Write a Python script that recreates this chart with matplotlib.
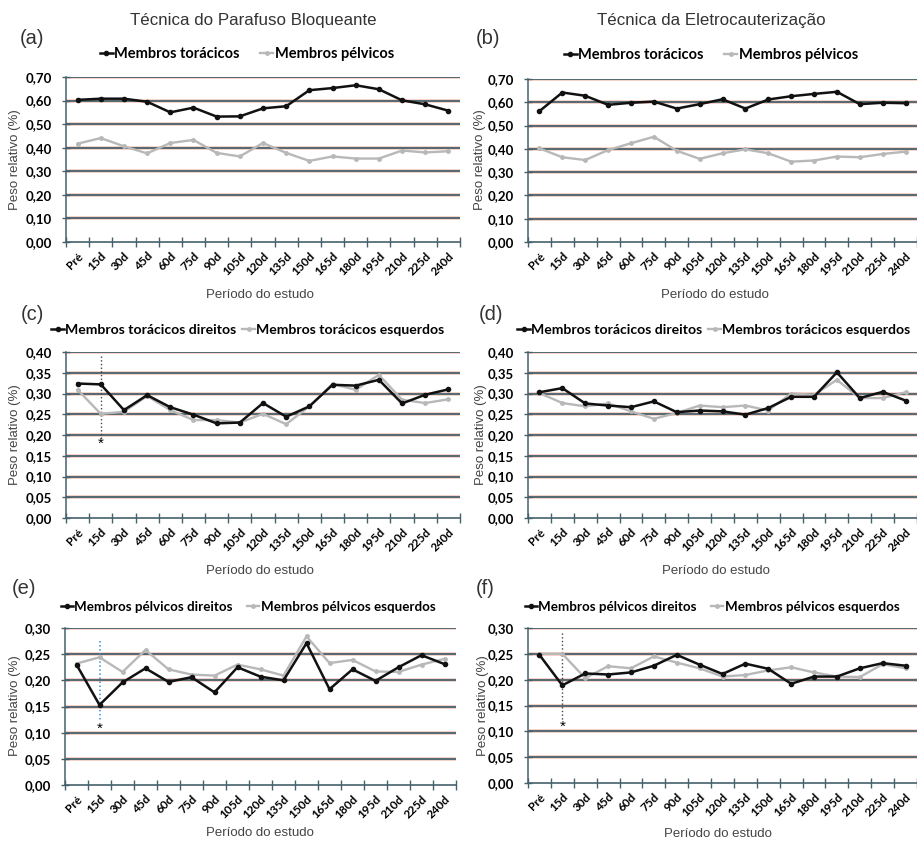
import numpy as np
import matplotlib.pyplot as plt

# Categorias do eixo x
periodos = ["Pré", "15d", "30d", "45d", "60d", "75d", "90d", "105d", "120d",
            "135d", "150d", "165d", "180d", "195d", "210d", "225d", "240d"]

# (a) Técnica do Parafuso Bloqueante
a_toracicos = [0.603, 0.608, 0.608, 0.595, 0.550, 0.570, 0.532, 0.533, 0.567,
               0.576, 0.644, 0.653, 0.665, 0.648, 0.601, 0.584, 0.557]
a_pelvicos = [0.417, 0.441, 0.406, 0.376, 0.420, 0.433, 0.378, 0.363, 0.420,
              0.378, 0.344, 0.363, 0.354, 0.354, 0.388, 0.380, 0.385]

# (b) Técnica da Eletrocauterização
b_toracicos = [0.562, 0.642, 0.628, 0.589, 0.598, 0.603, 0.573, 0.592, 0.613,
               0.573, 0.612, 0.626, 0.636, 0.645, 0.592, 0.598, 0.596]
b_pelvicos = [0.402, 0.364, 0.352, 0.395, 0.424, 0.452, 0.392, 0.357, 0.381,
              0.398, 0.381, 0.345, 0.350, 0.367, 0.364, 0.378, 0.388]

# (c)
c_direitos = [0.324, 0.322, 0.260, 0.296, 0.267, 0.249, 0.228, 0.230, 0.277,
              0.244, 0.269, 0.321, 0.319, 0.333, 0.276, 0.297, 0.310]
c_esquerdos = [0.309, 0.251, 0.256, 0.294, 0.260, 0.236, 0.236, 0.230, 0.251,
               0.226, 0.269, 0.323, 0.309, 0.345, 0.285, 0.277, 0.286]

# (d)
d_direitos = [0.303, 0.313, 0.276, 0.271, 0.267, 0.281, 0.255, 0.259, 0.257,
              0.249, 0.265, 0.292, 0.292, 0.351, 0.289, 0.304, 0.283]
d_esquerdos = [0.301, 0.277, 0.269, 0.276, 0.257, 0.239, 0.253, 0.271, 0.267,
               0.271, 0.259, 0.300, 0.297, 0.333, 0.289, 0.289, 0.303]

# (e)
e_direitos = [0.230, 0.153, 0.196, 0.223, 0.197, 0.206, 0.177, 0.225, 0.207,
              0.200, 0.271, 0.183, 0.221, 0.199, 0.225, 0.248, 0.231]
e_esquerdos = [0.232, 0.244, 0.216, 0.258, 0.221, 0.211, 0.209, 0.230, 0.221,
               0.209, 0.284, 0.233, 0.239, 0.217, 0.216, 0.230, 0.241]

# (f)
f_direitos = [0.248, 0.189, 0.212, 0.210, 0.214, 0.227, 0.248, 0.229, 0.211,
              0.231, 0.221, 0.192, 0.206, 0.206, 0.222, 0.232, 0.227]
f_esquerdos = [0.250, 0.250, 0.203, 0.226, 0.222, 0.245, 0.233, 0.222, 0.206,
               0.209, 0.218, 0.224, 0.214, 0.206, 0.205, 0.230, 0.222]

plt.rcParams['font.family'] = ['Liberation Sans', 'DejaVu Sans']

W, H = 917, 841
fig = plt.figure(figsize=(W / 100, H / 100), dpi=100)

GRID = "#46616c"
DARK = "#111111"
GRAY = "#b8b8b8"
BOLD = dict(family=['Lato', 'DejaVu Sans'], weight='bold')


def rect(l, t, r, b):
    return [l / W, 1 - b / H, (r - l) / W, (b - t) / H]


def painel(box, preto, cinza, ymax, ystep, xr=16.5):
    ax = fig.add_axes(rect(*box))
    x = np.arange(len(periodos))
    yt = np.arange(0, ymax + ystep / 2, ystep)
    for v in yt[1:]:
        ax.axhline(v, color="#f3c9bd", lw=2.6, zorder=0)
        ax.axhline(v, color=GRID, lw=1.3, zorder=1)
    ax.plot(x, cinza, color=GRAY, lw=1.7, marker='o', ms=2.5, zorder=3)
    ax.plot(x, preto, color=DARK, lw=1.8, marker='o', ms=3, zorder=4)
    ax.set_xlim(-0.5, xr)
    ax.set_ylim(0, ymax)
    ax.set_yticks(yt)
    ax.set_yticklabels([f"{v:.2f}".replace('.', ',') for v in yt],
                       fontsize=9.5, **BOLD)
    ax.set_xticks(np.arange(-0.5, 17, 1))
    ax.set_xticklabels([])
    ax.set_xticks(x, minor=True)
    ax.set_xticklabels(periodos, minor=True, rotation=45, ha='right',
                       rotation_mode='anchor', fontsize=8.5, **BOLD)
    ax.tick_params(axis='x', which='major', direction='inout', length=7,
                   color=GRID, width=1)
    ax.tick_params(axis='x', which='minor', length=0, pad=6)
    ax.tick_params(axis='y', direction='inout', length=6, color=GRID,
                   width=1, pad=7)
    for s in ['top', 'right']:
        ax.spines[s].set_visible(False)
    ax.spines['left'].set_color(GRID)
    ax.spines['bottom'].set_color(GRID)
    ax.spines['left'].set_linewidth(1.1)
    ax.spines['bottom'].set_linewidth(1.2)
    return ax


def legenda(nomes, cx, cy, size, cs):
    h = [plt.Line2D([], [], color=DARK, lw=1.8, marker='o', ms=3),
         plt.Line2D([], [], color=GRAY, lw=1.7, marker='o', ms=2.5)]
    fig.legend(h, nomes, loc='center', bbox_to_anchor=(cx / W, 1 - cy / H),
               ncol=2, frameon=False, handlelength=0.9, handletextpad=0.1,
               columnspacing=cs, borderpad=0, prop=dict(size=size, **BOLD))


def texto(x, y, s, **kw):
    fig.text(x / W, 1 - y / H, s, **kw)


# Painéis
axa = painel((66, 77, 460, 242), a_toracicos, a_pelvicos, 0.70, 0.10)
axb = painel((528, 79, 917, 242), b_toracicos, b_pelvicos, 0.70, 0.10, xr=16.2)
axc = painel((66, 352, 460, 518), c_direitos, c_esquerdos, 0.40, 0.05)
axd = painel((528, 352, 917, 518), d_direitos, d_esquerdos, 0.40, 0.05, xr=16.2)
axe = painel((65, 628, 456, 785), e_direitos, e_esquerdos, 0.30, 0.05)
axf = painel((528, 628, 917, 783), f_direitos, f_esquerdos, 0.30, 0.05, xr=16.4)

# Linhas pontilhadas e asteriscos (15d)
axc.plot([1, 1], [0.39, 0.19], ls=':', color="#444444", lw=1, zorder=2)
axc.text(1, 0.178, '*', ha='center', va='center', fontsize=11)
axe.plot([1, 1], [0.275, 0.12], ls=':', color="#3a8fd0", lw=1.1, zorder=2)
axe.text(1, 0.108, '*', ha='center', va='center', fontsize=11)
axf.plot([1, 1], [0.29, 0.12], ls=':', color="#444444", lw=1, zorder=2)
axf.text(1, 0.108, '*', ha='center', va='center', fontsize=11)

# Legendas
tor = ["Membros torácicos", "Membros pélvicos"]
legenda(tor, 247, 54, 10.5, 1.4)
legenda(tor, 711, 55, 10.5, 1.4)
tor_lado = ["Membros torácicos direitos", "Membros torácicos esquerdos"]
legenda(tor_lado, 248, 330, 10.1, 0.4)
legenda(tor_lado, 714, 330, 10.1, 0.4)
pel_lado = ["Membros pélvicos direitos", "Membros pélvicos esquerdos"]
legenda(pel_lado, 248, 607, 9.6, 1.1)
legenda(pel_lado, 712, 607, 9.6, 1.1)

# Títulos e rótulos
texto(253, 20, "Técnica do Parafuso Bloqueante", ha='center', va='center',
      fontsize=12.2, color="#333333")
texto(711, 20, "Técnica da Eletrocauterização", ha='center', va='center',
      fontsize=12.2, color="#333333")
for s, x, y in [("(a)", 20, 38), ("(b)", 476, 38), ("(c)", 21, 315),
                ("(d)", 479, 315), ("(e)", 12, 588), ("(f)", 476, 588)]:
    texto(x, y, s, ha='left', va='center', fontsize=14.5, color="#333333")

for x, y in [(260, 295), (715, 295), (260, 571), (716, 571), (260, 833), (718, 834)]:
    texto(x, y, "Período do estudo", ha='center', va='center', fontsize=9.5,
          color="#444444")
for x, y in [(15, 160), (480, 160), (15, 435), (481, 435), (15, 706), (483, 706)]:
    texto(x, y, "Peso relativo (%)", ha='center', va='center', fontsize=9.5,
          rotation=90, color="#444444")

fig.savefig("out.png", dpi=100)
